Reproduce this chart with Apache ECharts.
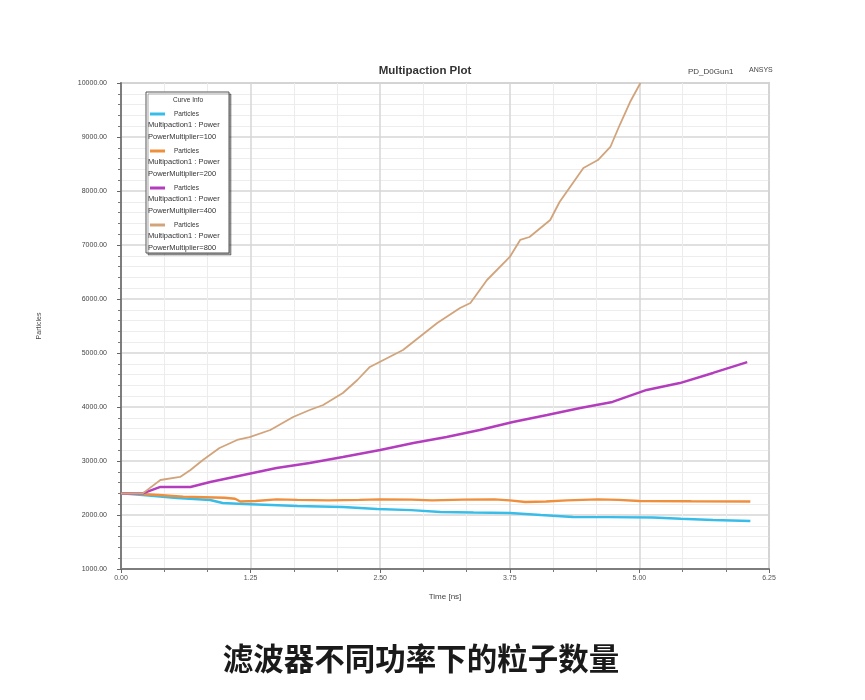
<!DOCTYPE html>
<html>
<head>
<meta charset="utf-8">
<script src="https://cdn.jsdelivr.net/npm/echarts@6/dist/echarts.min.js"></script>
<style>
html,body{margin:0;padding:0;background:#fff;}
#chart{width:865px;height:700px;}
</style>
</head>
<body>
<div id="chart"></div>
<script>
// ---- data (time [ns], particles) ----
const xTickLabels = ['0.00','1.25','2.50','3.75','5.00','6.25'];
const seriesNames = ['PowerMultiplier=100','PowerMultiplier=200','PowerMultiplier=400','PowerMultiplier=800'];
const legendLine1 = 'Particles';
const legendLine2 = 'Multipaction1 : Power';
const cyanData = [[0,2400],[0.21,2370],[0.54,2315],[0.86,2278],[0.98,2222],[1.18,2204],[1.45,2185],[1.70,2167],[2.14,2148],[2.47,2111],[2.80,2090],[3.08,2056],[3.40,2045],[3.75,2037],[4.05,2000],[4.36,1963],[4.70,1960],[5.13,1955],[5.40,1930],[5.71,1907],[6.07,1889]];
const orangeData = [[0,2400],[0.2,2390],[0.4,2365],[0.6,2340],[0.8,2330],[1.0,2320],[1.1,2300],[1.15,2250],[1.3,2260],[1.5,2290],[1.7,2280],[2.0,2270],[2.3,2280],[2.5,2290],[2.8,2285],[3.0,2270],[3.3,2285],[3.6,2290],[3.75,2270],[3.9,2240],[4.1,2250],[4.3,2270],[4.6,2290],[4.8,2280],[5.0,2260],[5.5,2255],[6.07,2250]];
const purpleData = [[0,2400],[0.21,2400],[0.38,2519],[0.67,2519],[0.86,2611],[1.18,2741],[1.50,2870],[1.82,2963],[2.14,3074],[2.50,3204],[2.82,3333],[3.14,3444],[3.46,3574],[3.78,3722],[4.11,3852],[4.43,3981],[4.74,4093],[5.07,4315],[5.39,4444],[5.71,4630],[6.04,4833]];
const tanData = [[0,2400],[0.21,2400],[0.38,2648],[0.57,2704],[0.67,2833],[0.79,3019],[0.95,3241],[1.12,3389],[1.24,3444],[1.44,3574],[1.66,3815],[1.82,3944],[1.95,4037],[2.14,4259],[2.28,4500],[2.40,4741],[2.72,5056],[3.05,5556],[3.27,5833],[3.37,5926],[3.53,6352],[3.75,6778],[3.85,7093],[3.94,7148],[4.14,7463],[4.23,7796],[4.46,8426],[4.60,8574],[4.72,8815],[4.81,9222],[4.91,9648],[5.01,10000]];
const colors = ['#38bde9','#ef8f3c','#b33dbd','#d2a47c'];

const chart = echarts.init(document.getElementById('chart'));
const allData = [cyanData, orangeData, purpleData, tanData];

const legendFont = {fontSize: 7.5, fill: '#333', fontFamily: 'Liberation Sans', verticalAlign: 'middle'};
const legendSubTexts = [];
seriesNames.forEach((n, i) => {
  const yc = 114 + 37 * i;
  legendSubTexts.push({type: 'text', z: 4, x: 148, y: yc + 11, style: Object.assign({text: legendLine2}, legendFont)});
  legendSubTexts.push({type: 'text', z: 4, x: 148, y: yc + 23, style: Object.assign({text: n}, legendFont)});
});

const option = {
  animation: false,
  backgroundColor: '#ffffff',
  title: [
    {text: 'Multipaction Plot', left: 420, top: 60, textAlign: 'center',
     textStyle: {fontSize: 11.5, fontWeight: 'bold', color: '#333', fontFamily: 'Liberation Sans'}},
    {text: 'PD_D0Gun1', left: 683, top: 63,
     textStyle: {fontSize: 8, fontWeight: 'normal', color: '#444', fontFamily: 'Liberation Sans'}},
    {text: 'ANSYS', left: 744, top: 62,
     textStyle: {fontSize: 7, fontWeight: 'normal', color: '#444', fontFamily: 'Liberation Sans'}},
    {text: '滤波器不同功率下的粒子数量', left: 416, top: 638, textAlign: 'center',
     textStyle: {fontSize: 30.5, fontWeight: 'bold', color: '#1a1a1a', fontFamily: 'Noto Sans CJK SC'}}
  ],
  grid: {left: 121, top: 83, width: 648, height: 486, show: true, borderColor: '#cfcfcf', borderWidth: 2, backgroundColor: '#fff'},
  graphic: [
    {type: 'rect', z: 3, shape: {x: 146, y: 92, width: 83, height: 161},
     style: {fill: '#fff', stroke: '#555', lineWidth: 1, shadowColor: 'rgba(0,0,0,0.35)', shadowOffsetX: 2, shadowOffsetY: 2, shadowBlur: 0}},
    {type: 'text', z: 4, x: 188, y: 100,
     style: {text: 'Curve Info', fontSize: 6.5, fill: '#333', fontFamily: 'Liberation Sans', align: 'center', verticalAlign: 'middle'}}
  ].concat(legendSubTexts),
  legend: {
    show: true, orient: 'vertical', left: 150, top: 109, z: 6, padding: 0,
    itemWidth: 15, itemHeight: 3, itemGap: 27, icon: 'rect',
    data: seriesNames,
    formatter: () => legendLine1,
    textStyle: {fontSize: 6.5, lineHeight: 10, color: '#333', fontFamily: 'Liberation Sans', padding: [0, 0, 0, 4]}
  },
  xAxis: {
    type: 'value', min: 0, max: 6.25, interval: 1.25,
    name: 'Time [ns]', nameLocation: 'middle', nameGap: 24,
    nameTextStyle: {fontSize: 8, color: '#444', fontFamily: 'Liberation Sans'},
    axisLine: {show: true, onZero: false, lineStyle: {color: '#7d7d7d', width: 2}},
    axisTick: {show: true, length: 4, lineStyle: {color: '#666'}},
    minorTick: {show: true, splitNumber: 3, length: 3, lineStyle: {color: '#777'}},
    axisLabel: {fontSize: 7, color: '#555', margin: 6, fontFamily: 'Liberation Sans',
      formatter: v => xTickLabels[Math.round(v / 1.25)]},
    splitLine: {show: true, lineStyle: {color: '#d6d6d6', width: 1.5}},
    minorSplitLine: {show: true, lineStyle: {color: '#ececec', width: 1}}
  },
  yAxis: {
    type: 'value', min: 1000, max: 10000, interval: 1000,
    name: 'Particles', nameLocation: 'middle', nameGap: 78, nameRotate: 90,
    nameTextStyle: {fontSize: 7, color: '#444', fontFamily: 'Liberation Sans'},
    axisLine: {show: true, lineStyle: {color: '#7d7d7d', width: 2}},
    axisTick: {show: true, length: 4, lineStyle: {color: '#666'}},
    minorTick: {show: true, splitNumber: 5, length: 3, lineStyle: {color: '#777'}},
    axisLabel: {fontSize: 7, color: '#444', margin: 14, fontFamily: 'Liberation Sans',
      formatter: v => v.toFixed(2)},
    splitLine: {show: true, lineStyle: {color: '#d6d6d6', width: 1.5}},
    minorSplitLine: {show: true, lineStyle: {color: '#ededed', width: 1}}
  },
  series: allData.map((d, i) => ({
    name: seriesNames[i], type: 'line', data: d, showSymbol: false, symbol: 'none',
    smooth: false, clip: true, z: 2,
    lineStyle: {color: colors[i], width: i === 3 ? 1.8 : 2.4},
    itemStyle: {color: colors[i]}
  }))
};
chart.setOption(option);
</script>
</body>
</html>
